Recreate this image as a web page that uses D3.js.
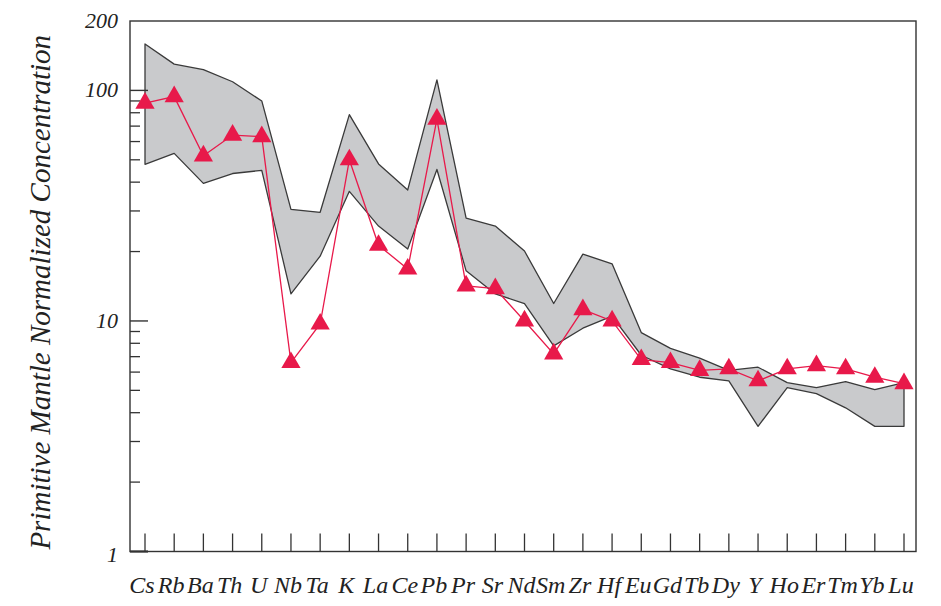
<!DOCTYPE html>
<html>
<head>
<meta charset="utf-8">
<script src="https://cdn.jsdelivr.net/npm/d3@7"></script>
<style>
  body { margin: 0; background: #fff; }
  svg text { font-family: "Liberation Serif", "DejaVu Serif", serif; font-style: italic; fill: #222; }
</style>
</head>
<body>
<div id="chart"></div>
<script>
// Eléments (ordre du spidergram)
const elements = ["Cs","Rb","Ba","Th","U","Nb","Ta","K","La","Ce","Pb","Pr","Sr","Nd","Sm","Zr","Hf","Eu","Gd","Tb","Dy","Y","Ho","Er","Tm","Yb","Lu"];

// Echantillon (triangles rouges)
const sample = [88, 94, 52, 64, 63, 6.6, 9.7, 50, 21.3, 16.8, 75, 14.2, 13.8, 10.0, 7.2, 11.2, 10.0, 6.8, 6.6, 6.1, 6.2, 5.5, 6.2, 6.4, 6.2, 5.7, 5.35];

// Enveloppe grise : bornes haute et basse
const upper = [159, 130, 123, 109, 90, 30.5, 29.6, 78.5, 48, 37, 111, 27.9, 25.8, 20.1, 11.9, 19.5, 17.7, 8.9, 7.6, 6.9, 6.1, 6.3, 5.4, 5.14, 5.46, 5.04, 5.4];
const lower = [47.8, 53.3, 39.5, 43.6, 45, 13.1, 19.1, 36.5, 25.8, 20.5, 45.4, 16.5, 13.1, 11.9, 7.8, 9.3, 10.5, 7.1, 6.2, 5.7, 5.5, 3.49, 5.14, 4.84, 4.2, 3.49, 3.49];

// Graduations de l'axe Y
const yLabels = [1, 10, 100, 200];

const width = 941, height = 606;
const mLeft = 130, mRight = 916, mTop = 21, mBottom = 551.5;

const svg = d3.select("#chart").append("svg")
    .attr("width", width)
    .attr("height", height);

const x = d3.scalePoint().domain(elements).range([145, 904]);
const y = d3.scaleLog().domain([1, 200]).range([mBottom, mTop]);

// Enveloppe
const band = d3.area()
    .x((d, i) => x(elements[i]))
    .y0((d, i) => y(lower[i]))
    .y1(d => y(d));

svg.append("path")
    .datum(upper)
    .attr("d", band)
    .attr("fill", "#c9cacc")
    .attr("stroke", "#3a3a3a")
    .attr("stroke-width", 1.3)
    .attr("stroke-linejoin", "round");

// Cadre
svg.append("rect")
    .attr("x", mLeft).attr("y", mTop)
    .attr("width", mRight - mLeft).attr("height", mBottom - mTop)
    .attr("fill", "none")
    .attr("stroke", "#333")
    .attr("stroke-width", 1.4);

// Graduations mineures et majeures de l'axe Y (vers l'intérieur)
const minor = [];
for (let dec = 1; dec <= 100; dec *= 10) {
    for (let m = 2; m <= 9; m++) {
        if (dec * m < 200) minor.push(dec * m);
    }
}
svg.selectAll(".ytick-minor")
    .data(minor)
    .enter().append("line")
    .attr("x1", mLeft).attr("x2", mLeft + 10)
    .attr("y1", d => y(d)).attr("y2", d => y(d))
    .attr("stroke", "#333").attr("stroke-width", 1.3);

svg.selectAll(".ytick-major")
    .data([1, 10, 100])
    .enter().append("line")
    .attr("x1", mLeft).attr("x2", mLeft + 18)
    .attr("y1", d => y(d)).attr("y2", d => y(d))
    .attr("stroke", "#333").attr("stroke-width", d => d === 1 ? 2.2 : 1.4);

svg.selectAll(".ylabel")
    .data(yLabels)
    .enter().append("text")
    .attr("x", mLeft - 12)
    .attr("y", d => y(d) + (d === 1 ? 10 : 7))
    .attr("text-anchor", "end")
    .attr("font-size", 22)
    .text(d => d);

// Graduations de l'axe X
svg.selectAll(".xtick")
    .data(elements)
    .enter().append("line")
    .attr("x1", d => x(d)).attr("x2", d => x(d))
    .attr("y1", mBottom).attr("y2", mBottom - 18)
    .attr("stroke", "#333").attr("stroke-width", 1.3);

svg.selectAll(".xlabel")
    .data(elements)
    .enter().append("text")
    .attr("x", d => x(d) - 3)
    .attr("y", 593)
    .attr("text-anchor", "middle")
    .attr("font-size", 24)
    .text(d => d);

// Titre de l'axe Y
svg.append("text")
    .attr("transform", "translate(50," + ((mTop + mBottom) / 2 + 6) + ") rotate(-90)")
    .attr("text-anchor", "middle")
    .attr("font-size", 29)
    .text("Primitive Mantle Normalized Concentration");

// Ligne de l'échantillon
const line = d3.line()
    .x((d, i) => x(elements[i]))
    .y(d => y(d));

svg.append("path")
    .datum(sample)
    .attr("d", line)
    .attr("fill", "none")
    .attr("stroke", "#e8194a")
    .attr("stroke-width", 1.3);

// Triangles
const tri = d3.symbol().type(d3.symbolTriangle).size(160);
svg.selectAll(".pt")
    .data(sample)
    .enter().append("path")
    .attr("d", tri)
    .attr("transform", (d, i) => "translate(" + x(elements[i]) + "," + y(d) + ")")
    .attr("fill", "#e8194a");
</script>
</body>
</html>
